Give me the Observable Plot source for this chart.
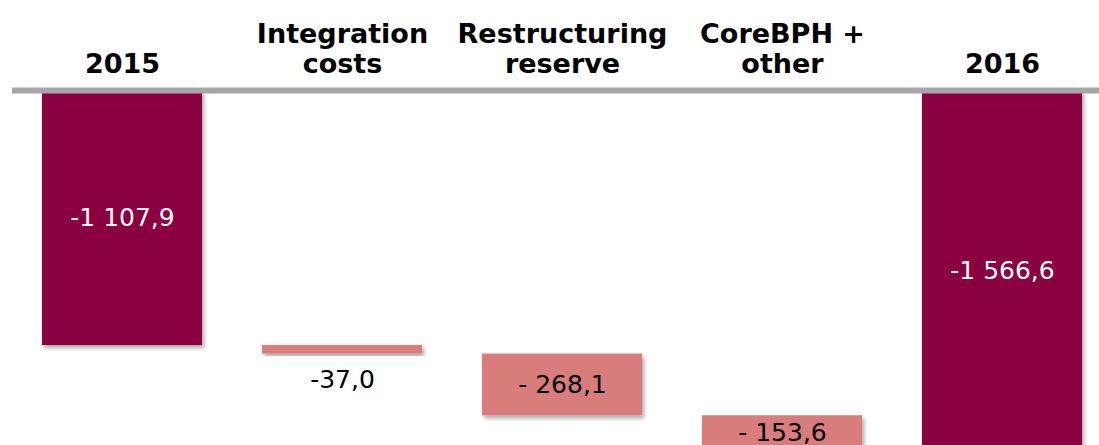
<!DOCTYPE html>
<html><head><meta charset="utf-8">
<script src="https://cdn.jsdelivr.net/npm/d3@7"></script>
<script src="https://cdn.jsdelivr.net/npm/@observablehq/plot@0.6"></script>
<style>body{margin:0;background:#fff;overflow:hidden;} svg{overflow:hidden;}</style>
</head><body><div id="chart"></div>
<script>
const categories = ["2015", "Integration\ncosts", "Restructuring\nreserve", "CoreBPH +\nother", "2016"];
const values = [-1107.9, -37.0, -268.1, -153.6, -1566.6];
const valueLabels = ["-1 107,9", "-37,0", "- 268,1", "- 153,6", "-1 566,6"];
const kinds = ["total", "change", "change", "change", "total"];

let running = 0;
const rows = categories.map((c, i) => {
  let y1, y2;
  if (kinds[i] === "total") { y1 = 0; y2 = values[i]; }
  else { y1 = running; y2 = running + values[i]; }
  running = y2;
  return {category: c, value: values[i], label: valueLabels[i], kind: kinds[i], y1, y2, mid: (y1 + y2) / 2};
});
const inside = rows.filter(d => Math.abs(d.value) >= 100);
const outside = rows.filter(d => Math.abs(d.value) < 100);

const chart = Plot.plot({
  width: 1099,
  height: 445,
  marginTop: 90,
  marginBottom: 0,
  marginLeft: 12,
  marginRight: 0,
  style: {fontFamily: "DejaVu Sans", background: "#fff", color: "#000"},
  x: {domain: categories, range: [12, 1112], paddingInner: 60 / 220, paddingOuter: 30 / 220, align: 0.5, label: null},
  y: {domain: [0, -1566.6], range: [90, 450.6], axis: null},
  marks: [
    Plot.rectY(rows, {x: "category", y1: "y1", y2: "y2", fill: d => d.kind === "total" ? "#8B0641" : "#D97C7C", clip: true}),
    Plot.ruleY([0], {stroke: "#A6A6A6", strokeWidth: 6}),
    Plot.text(inside, {x: "category", y: "mid", text: "label", fontSize: 25, fill: d => d.kind === "total" ? "#fff" : "#000"}),
    Plot.text(outside, {x: "category", y: "y2", text: "label", fontSize: 25, dy: 26, fill: "#000"}),
    Plot.axisX({anchor: "top", label: null, tickSize: 0, tickPadding: 18, fontSize: 27, fontWeight: "bold", lineHeight: 1.11, fill: "#000"})
  ]
});

const svg = d3.select(chart);
const defs = svg.insert("defs", ":first-child");
const f = defs.append("filter").attr("id", "shadow").attr("x", "-10%").attr("y", "-10%").attr("width", "130%").attr("height", "130%");
f.append("feDropShadow").attr("dx", 2).attr("dy", 3).attr("stdDeviation", 2).attr("flood-color", "#000").attr("flood-opacity", 0.35);
svg.selectAll('g[aria-label="rect"] rect').attr("filter", "url(#shadow)");
document.getElementById("chart").appendChild(chart);
</script>
</body></html>
